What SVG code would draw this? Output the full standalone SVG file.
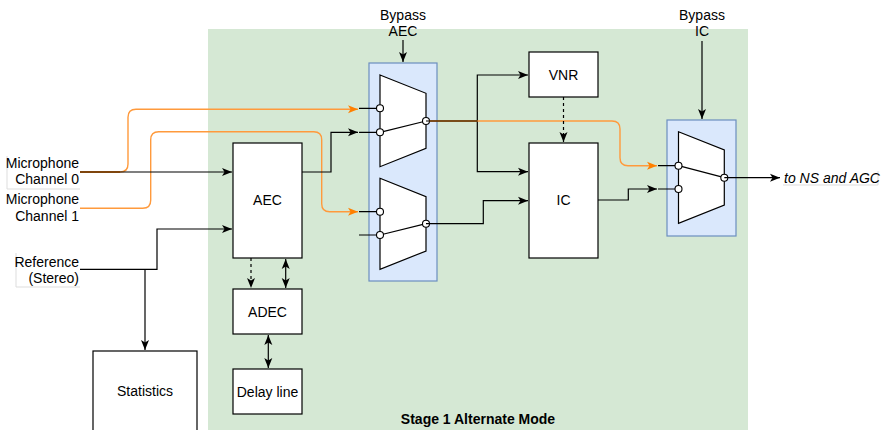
<svg xmlns="http://www.w3.org/2000/svg" width="881" height="430" viewBox="0 0 881 430">
<defs>
<style>
text{font-family:"Liberation Sans",Arial,Helvetica,sans-serif;font-size:14px;fill:#000}
.box{fill:#fff;stroke:#000;stroke-width:1.2}
.grp{fill:#dae8fc;stroke:#6c8ebf;stroke-width:1.2}
.mux{fill:#fff;stroke:#000;stroke-width:1.2}
.pin{fill:#fff;stroke:#000;stroke-width:1.1}
.w{fill:none;stroke:#000;stroke-width:1.2}
.o{fill:none;stroke:#ff9a3c;stroke-width:1.4}
.d{fill:none;stroke:#000;stroke-width:1.2;stroke-dasharray:3 3}
.lb{fill:none;stroke:#ddd;stroke-width:1}
.br{fill:none;stroke:#7f3f00;stroke-width:1.4}
</style>
<marker id="a" markerUnits="userSpaceOnUse" markerWidth="12" markerHeight="10" viewBox="0 0 12 10" refX="10" refY="4.5" orient="auto-start-reverse"><path d="M0,0.5 L10,4.5 L0,8.5 L2.5,4.5 Z" fill="#000"/></marker>
<marker id="ao" markerUnits="userSpaceOnUse" markerWidth="12" markerHeight="10" viewBox="0 0 12 10" refX="10" refY="4.5" orient="auto"><path d="M0,0.5 L10,4.5 L0,8.5 L2.5,4.5 Z" fill="#ff8000"/></marker>
</defs>
<rect x="0" y="0" width="881" height="430" fill="#fff"/>
<rect id="stage" x="208" y="29" width="540" height="402" fill="#d5e8d4"/>
<text x="478" y="424" text-anchor="middle" font-weight="bold">Stage 1 Alternate Mode</text>

<g id="label-mic0">
<path class="lb" d="M7,156 V189 H80"/>
<text x="79" y="167.5" text-anchor="end">Microphone</text>
<text x="79" y="184" text-anchor="end">Channel 0</text>
</g>
<g id="label-mic1">
<text x="79" y="204" text-anchor="end">Microphone</text>
<text x="79" y="221" text-anchor="end">Channel 1</text>
</g>
<g id="label-ref">
<path class="lb" d="M16,253 V287 H80"/>
<text x="79" y="267" text-anchor="end">Reference</text>
<text x="79" y="283" text-anchor="end">(Stereo)</text>
</g>
<g id="label-bypass-aec">
<text x="403" y="20" text-anchor="middle">Bypass</text>
<text x="403" y="36" text-anchor="middle">AEC</text>
</g>
<g id="label-bypass-ic">
<text x="702" y="20" text-anchor="middle">Bypass</text>
<text x="702" y="36" text-anchor="middle">IC</text>
</g>
<g id="label-out">
<path class="lb" d="M783,185 H878 V171"/>
<text x="784" y="183" font-style="italic">to NS and AGC</text>
</g>

<g id="aec"><rect class="box" x="233" y="143" width="69" height="115"/><text x="267.5" y="205" text-anchor="middle">AEC</text></g>
<g id="adec"><rect class="box" x="233" y="289" width="69" height="45"/><text x="267.5" y="317" text-anchor="middle">ADEC</text></g>
<g id="delay"><rect class="box" x="233" y="369" width="69" height="45"/><text x="267.5" y="397" text-anchor="middle">Delay line</text></g>
<g id="stats"><rect class="box" x="93" y="351" width="104" height="85"/><text x="145" y="396" text-anchor="middle">Statistics</text></g>
<g id="vnr"><rect class="box" x="529" y="52" width="69" height="45"/><text x="563.5" y="80" text-anchor="middle">VNR</text></g>
<g id="ic"><rect class="box" x="529" y="143" width="69" height="115"/><text x="563.5" y="205" text-anchor="middle">IC</text></g>

<g id="bypass-aec-mux">
<rect class="grp" x="369" y="63" width="68" height="218"/>
<path class="w" d="M359,108.3 H380 M359,132.3 H380 M359,211.7 H380 M359,235 H380"/>
<path class="mux" d="M380,75 L426,93.3 V148.3 L380,166.7 Z"/>
<path class="mux" d="M380,178.3 L426,196.7 V251 L380,269.3 Z"/>
<path class="w" d="M380,132.3 L426,121 M380,235 L426,223.7"/>
<circle class="pin" cx="380" cy="108.3" r="3.5"/>
<circle class="pin" cx="380" cy="132.3" r="3.5"/>
<circle class="pin" cx="426" cy="121" r="3.5"/>
<circle class="pin" cx="380" cy="211.7" r="3.5"/>
<circle class="pin" cx="380" cy="235" r="3.5"/>
<circle class="pin" cx="426" cy="223.7" r="3.5"/>
</g>

<g id="bypass-ic-mux">
<rect class="grp" x="667" y="120" width="69" height="116"/>
<path class="w" d="M658,165.7 H679 M658,189 H679"/>
<path class="mux" d="M678.5,131.7 L724.3,150 V205 L678.5,223.3 Z"/>
<path class="w" d="M678.5,165.7 L724.3,177.7"/>
<circle class="pin" cx="678.5" cy="165.7" r="3.5"/>
<circle class="pin" cx="678.5" cy="189" r="3.5"/>
<circle class="pin" cx="724.3" cy="177.7" r="3.5"/>
</g>

<g id="connectors">
<path class="o" d="M80,172 H120 Q128,172 128,164 V117.3 Q128,109.3 136,109.3 H358" marker-end="url(#ao)"/>
<path class="o" d="M80,208.3 H142.7 Q150.7,208.3 150.7,200.3 V139.7 Q150.7,131.7 158.7,131.7 H313.7 Q321.7,131.7 321.7,139.7 V203.7 Q321.7,211.7 329.7,211.7 H358" marker-end="url(#ao)"/>
<path class="w" d="M80,172 H232" marker-end="url(#a)"/>
<path class="br" d="M80,172 H120"/>
<path class="w" d="M80,269.3 H157 V229 H232" marker-end="url(#a)"/>
<path class="w" d="M145,269.3 V350" marker-end="url(#a)"/>
<path class="w" d="M302,172 H331 V132.3 H358" marker-end="url(#a)"/>
<path class="d" d="M251,258 V288" marker-end="url(#a)"/>
<path class="w" d="M285.7,259 V288" marker-start="url(#a)" marker-end="url(#a)"/>
<path class="w" d="M268.3,335 V368" marker-start="url(#a)" marker-end="url(#a)"/>
<path class="w" d="M403,40 V62" marker-end="url(#a)"/>
<path class="w" d="M702,41 V119" marker-end="url(#a)"/>
<path class="w" d="M426,121 H477.3 V75 H528" marker-end="url(#a)"/>
<path class="w" d="M477.3,121 V171.7 H528" marker-end="url(#a)"/>
<path class="o" d="M477.3,121 H612 Q620,121 620,129 V157.7 Q620,165.7 628,165.7 H657" marker-end="url(#ao)"/>
<path class="br" d="M429.5,121 H477.3"/>
<path class="d" d="M563.5,97 V142" marker-end="url(#a)"/>
<path class="w" d="M426,223.7 H483.3 V200.7 H528" marker-end="url(#a)"/>
<path class="w" d="M598,200 H628.3 V189 H657" marker-end="url(#a)"/>
<path class="w" d="M724.3,177.7 H780" marker-end="url(#a)"/>
</g>
</svg>
